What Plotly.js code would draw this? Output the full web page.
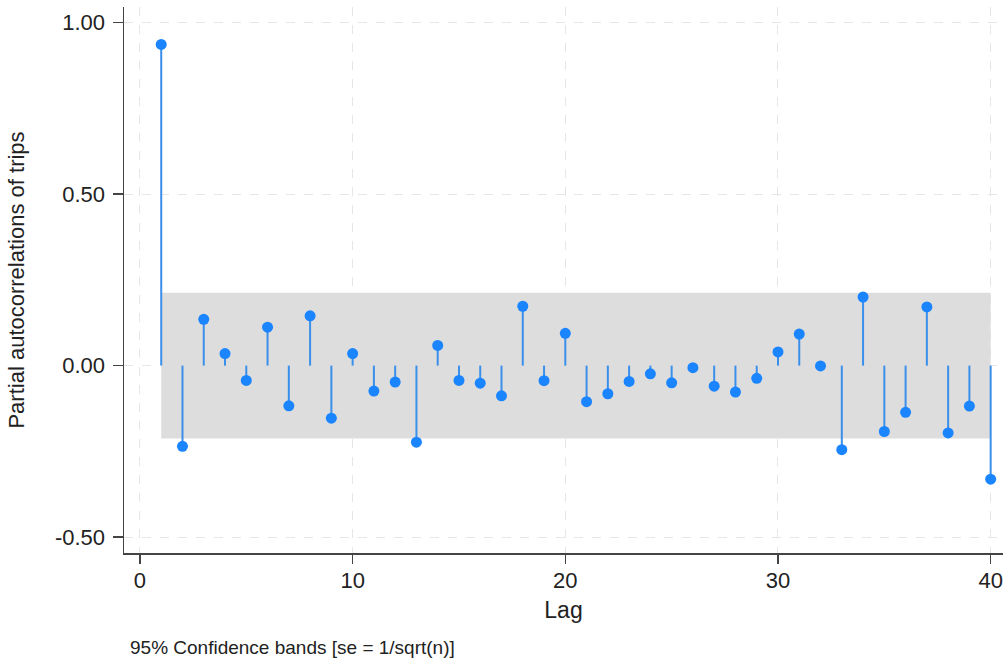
<!DOCTYPE html>
<html>
<head>
<meta charset="utf-8">
<script src="https://cdn.plot.ly/plotly-3.0.1.min.js"></script>
<style>html,body{margin:0;padding:0;background:#fff;}#chart{width:1008px;height:659px;}</style>
</head>
<body>
<div id="chart"></div>
<script>
const lags = [1,2,3,4,5,6,7,8,9,10,11,12,13,14,15,16,17,18,19,20,21,22,23,24,25,26,27,28,29,30,31,32,33,34,35,36,37,38,39,40];
const pac = [0.936,-0.235,0.135,0.035,-0.043,0.112,-0.117,0.145,-0.153,0.035,
             -0.074,-0.048,-0.223,0.059,-0.043,-0.051,-0.088,0.173,-0.044,0.094,
             -0.105,-0.082,-0.046,-0.024,-0.050,-0.006,-0.060,-0.077,-0.037,0.040,
             0.092,-0.001,-0.245,0.200,-0.192,-0.136,0.171,-0.196,-0.118,-0.331];
const ciBand = 0.212;
const yTicks = [-0.5, 0, 0.5, 1];
const yTickLabels = ["-0.50", "0.00", "0.50", "1.00"];
const xTicks = [0, 10, 20, 30, 40];

const stemX = [], stemY = [];
lags.forEach((l, i) => { stemX.push(l, l, null); stemY.push(0, pac[i], null); });

const bandX = [lags[0], lags[lags.length-1], lags[lags.length-1], lags[0], lags[0]];
const bandY = [ciBand, ciBand, -ciBand, -ciBand, ciBand];

const font = "Liberation Sans, Arial, sans-serif";
const data = [
  {x: bandX, y: bandY, type: 'scatter', mode: 'lines', fill: 'toself',
   fillcolor: '#dddddd', line: {width: 0}, hoverinfo: 'skip', showlegend: false},
  {x: stemX, y: stemY, type: 'scatter', mode: 'lines',
   line: {color: '#3a8fea', width: 2}, hoverinfo: 'skip', showlegend: false},
  {x: lags, y: pac, type: 'scatter', mode: 'markers',
   marker: {color: '#1a85ff', size: 11}, showlegend: false}
];

const layout = {
  width: 1008, height: 659,
  margin: {l: 124, r: 5, t: 7, b: 106},
  paper_bgcolor: '#ffffff', plot_bgcolor: '#ffffff',
  font: {family: font, color: '#222222'},
  showlegend: false,
  xaxis: {
    range: [-0.75, 40.58], tickvals: xTicks, ticktext: xTicks.map(String),
    showgrid: true, gridcolor: '#e6e6e6', griddash: 'dash', gridwidth: 1,
    zeroline: false, showline: true, linecolor: '#444444', linewidth: 1.5,
    ticks: 'outside', ticklen: 9, tickcolor: '#444444', tickwidth: 1.5,
    ticklabelstandoff: -2,
    tickfont: {size: 22, family: font, color: '#222222'},
    title: {text: 'Lag', font: {size: 23, family: font, color: '#222222'}, standoff: 10}
  },
  yaxis: {
    range: [-0.546, 1.045], tickvals: yTicks, ticktext: yTickLabels,
    showgrid: true, gridcolor: '#e6e6e6', griddash: 'dash', gridwidth: 1,
    zeroline: false, showline: true, linecolor: '#444444', linewidth: 1.5,
    ticks: 'outside', ticklen: 10, tickcolor: '#444444', tickwidth: 1.5,
    ticklabelstandoff: 3,
    tickfont: {size: 22, family: font, color: '#222222'},
    title: {text: 'Partial autocorrelations of trips', font: {size: 22, family: font, color: '#222222'}, standoff: 24}
  },
  annotations: [{
    text: '95% Confidence bands [se = 1/sqrt(n)]', xref: 'paper', yref: 'paper',
    x: (128 - 124) / (1008 - 124 - 5), xanchor: 'left', y: -(646 - 552) / (659 - 7 - 106), yanchor: 'middle',
    showarrow: false, font: {size: 19, family: font, color: '#222222'}
  }]
};

Plotly.newPlot('chart', data, layout, {displayModeBar: false, staticPlot: true});
</script>
</body>
</html>
